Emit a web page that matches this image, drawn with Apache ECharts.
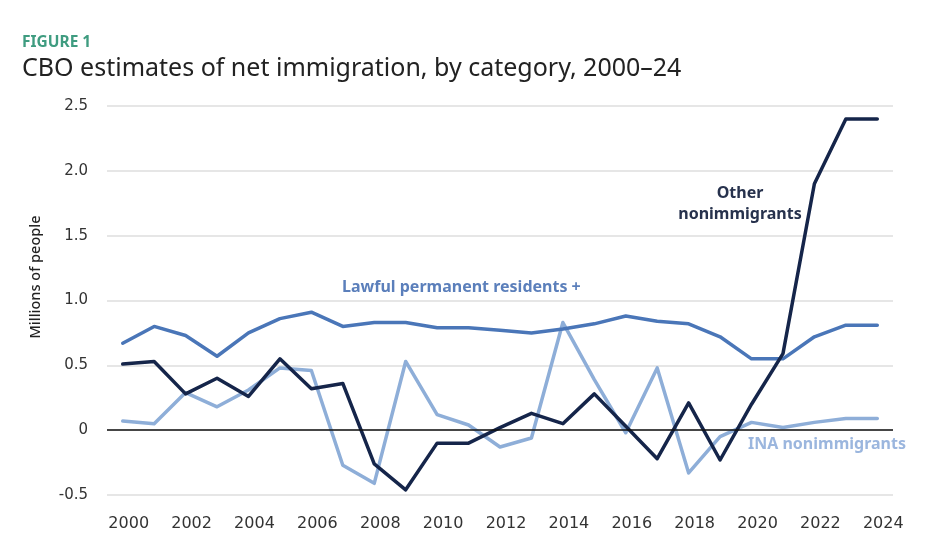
<!DOCTYPE html>
<html>
<head>
<meta charset="utf-8">
<script src="https://cdn.jsdelivr.net/npm/echarts@6/dist/echarts.min.js"></script>
<style>html,body{margin:0;padding:0;background:#fff;}#c{width:932px;height:540px;}</style>
</head>
<body>
<div id="c"></div>
<script>
const years = ['2000','2001','2002','2003','2004','2005','2006','2007','2008','2009','2010','2011','2012','2013','2014','2015','2016','2017','2018','2019','2020','2021','2022','2023','2024'];
const lawfulPermanent = [0.67,0.80,0.73,0.57,0.75,0.86,0.91,0.80,0.83,0.83,0.79,0.79,0.77,0.75,0.78,0.82,0.88,0.84,0.82,0.72,0.55,0.55,0.72,0.81,0.81];
const inaNonimmigrants = [0.07,0.05,0.29,0.18,0.31,0.48,0.46,-0.27,-0.41,0.53,0.12,0.04,-0.13,-0.06,0.83,0.39,-0.02,0.48,-0.33,-0.05,0.06,0.02,0.06,0.09,0.09];
const otherNonimmigrants = [0.51,0.53,0.28,0.40,0.26,0.55,0.32,0.36,-0.26,-0.46,-0.10,-0.10,0.02,0.13,0.05,0.28,0.03,-0.22,0.21,-0.23,0.20,0.59,1.90,2.40,2.40];
const yTicks = {min:-0.5, max:2.5, interval:0.5};

const FONT = '"Noto Sans", sans-serif';
const TICKFONT = '"DejaVu Sans", sans-serif';
const chart = echarts.init(document.getElementById('c'), null, {renderer:'canvas'});
const lineStyle = (c)=>({color:c, width:3.5, cap:'round', join:'round'});
chart.setOption({
  animation:false,
  backgroundColor:'#fff',
  grid:{left:107, right:39, top:106, bottom:45, containLabel:false},
  xAxis:{
    type:'category', data:years, boundaryGap:true,
    axisLine:{show:false}, axisTick:{show:false},
    axisLabel:{interval:1, color:'#333', fontSize:16, fontFamily:TICKFONT, margin:21, padding:[0,0,0,12]}
  },
  yAxis:{
    type:'value', min:yTicks.min, max:yTicks.max, interval:yTicks.interval,
    axisLine:{show:false}, axisTick:{show:false},
    axisLabel:{color:'#333', fontSize:15, fontFamily:TICKFONT, margin:19,
      formatter:(v)=> v===0 ? '0' : v.toFixed(1)},
    splitLine:{lineStyle:{color:'#dedede', width:1.5}}
  },
  series:[
    {name:'INA nonimmigrants', type:'line', data:inaNonimmigrants, symbol:'none', lineStyle:lineStyle('#8eaed8'), z:2,
     markLine:{silent:true, symbol:'none', label:{show:false}, lineStyle:{color:'#111', width:1.5, type:'solid'}, data:[{yAxis:0}]}},
    {name:'Lawful permanent residents +', type:'line', data:lawfulPermanent, symbol:'none', lineStyle:lineStyle('#4a76b8'), z:3},
    {name:'Other nonimmigrants', type:'line', data:otherNonimmigrants, symbol:'none', lineStyle:lineStyle('#15254a'), z:4}
  ],
  graphic:[
    {type:'text', x:22, y:35, style:{text:'FIGURE 1', fill:'#3f9c80', font:'bold 15.5px '+FONT}},
    {type:'text', x:22, y:56, style:{text:'CBO estimates of net immigration, by category, 2000–24', fill:'#222', font:'25px '+FONT}},
    {type:'text', x:36, y:277, rotation:Math.PI/2, style:{text:'Millions of people', fill:'#222', font:'500 14.5px '+FONT, align:'center', verticalAlign:'middle'}},
    {type:'text', x:342, y:279, style:{text:'Lawful permanent residents +', fill:'#5b7fbb', font:'bold 16px '+FONT}},
    {type:'text', x:740, y:183, style:{text:'Other\nnonimmigrants', fill:'#27324d', font:'bold 16px '+FONT, align:'center', lineHeight:21}},
    {type:'text', x:748, y:436, style:{text:'INA nonimmigrants', fill:'#9bb6de', font:'bold 16px '+FONT}}
  ]
});
</script>
</body>
</html>
